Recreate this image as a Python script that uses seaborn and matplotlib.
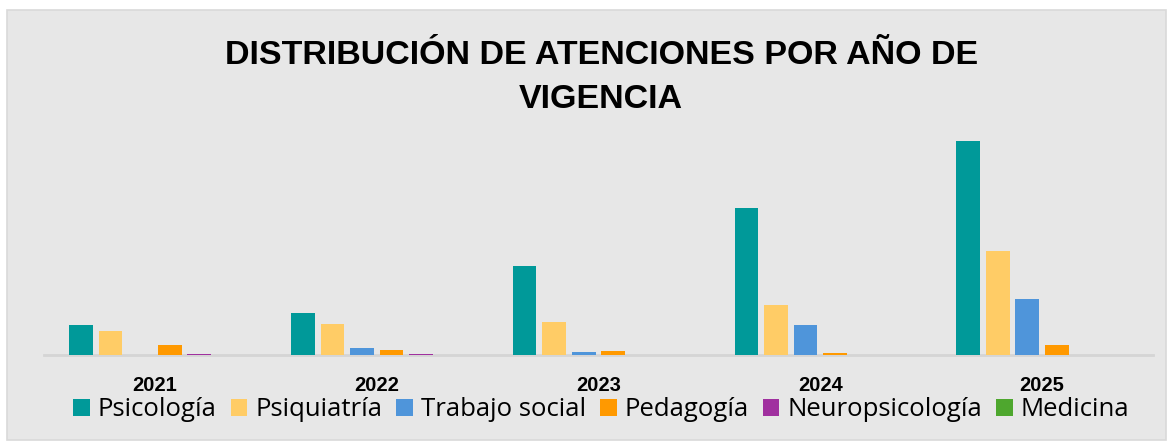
import matplotlib
matplotlib.use("Agg")
import matplotlib.pyplot as plt
import seaborn as sns
import pandas as pd
from matplotlib.patches import Rectangle, Patch

years = ["2021", "2022", "2023", "2024", "2025"]
series = ["Psicología", "Psiquiatría", "Trabajo social", "Pedagogía", "Neuropsicología", "Medicina"]
psicologia = [300, 420, 890, 1470, 2140]
psiquiatria = [240, 310, 330, 500, 1040]
trabajo_social = [0, 70, 30, 300, 560]
pedagogia = [100, 50, 40, 20, 100]
neuropsicologia = [15, 10, 3, 0, 0]
medicina = [3, 0, 0, 0, 0]
colors = ["#009999", "#FFCC66", "#4F95DA", "#FF9900", "#A0309F", "#4EA72E"]

values = [psicologia, psiquiatria, trabajo_social, pedagogia, neuropsicologia, medicina]
rows = []
for s, vals in zip(series, values):
    for y, v in zip(years, vals):
        rows.append({"Año": y, "Servicio": s, "Atenciones": v})
df = pd.DataFrame(rows)

sns.set_theme(style="white")
plt.rcParams["font.family"] = ["Liberation Sans", "DejaVu Sans"]

fig = plt.figure(figsize=(11.72, 4.45), dpi=100)
fig.patch.set_facecolor("white")
fig.patches.append(Rectangle((7/1172, 5/445), (1166-7)/1172, (435-5)/445,
                             transform=fig.transFigure, facecolor="#E7E7E7",
                             edgecolor="#D9D9D9", linewidth=1.2, zorder=-5))

ax = fig.add_axes([44/1172, 1-355/445, (1153-44)/1172, 225/445])
ax.set_zorder(2)
ax.set_facecolor("none")
sns.barplot(data=df, x="Año", y="Atenciones", hue="Servicio", order=years,
            hue_order=series, palette=colors, width=0.8, gap=0.2,
            saturation=1, ax=ax, legend=False, linewidth=0, edgecolor="none")
ax.set_ylim(0, 2250)
ax.set_xlim(-0.5, 4.5)
for s in ["top", "right", "left"]:
    ax.spines[s].set_visible(False)
ax.spines["bottom"].set_color("#D5D5D5")
ax.spines["bottom"].set_linewidth(2)
ax.spines["bottom"].set_zorder(0)
ax.set_yticks([])
ax.set_xlabel("")
ax.set_ylabel("")
ax.tick_params(axis="x", length=0, pad=15)
for lab in ax.get_xticklabels():
    lab.set_fontweight("bold")
    lab.set_fontsize(14.5)
    lab.set_color("black")

fig.text(0.513, 1-55/445, "DISTRIBUCIÓN DE ATENCIONES POR AÑO DE", ha="center",
         va="center", fontsize=24.5, fontweight="bold", color="black")
fig.text(0.513, 1-99/445, "VIGENCIA", ha="center", va="center", fontsize=24.5,
         fontweight="bold", color="black")

handles = [Patch(facecolor=c, edgecolor="none", label=s) for s, c in zip(series, colors)]
leg = fig.legend(handles=handles, loc="center", bbox_to_anchor=(0.513, 1-410/445), ncol=6,
           frameon=False, handlelength=0.65, handleheight=0.65,
           handletextpad=0.3, columnspacing=0.55,
           prop={"family": ["Open Sans", "DejaVu Sans"], "size": 18.5})
for t in leg.get_texts():
    t.set_color("black")

fig.savefig("out.png", dpi=100)
